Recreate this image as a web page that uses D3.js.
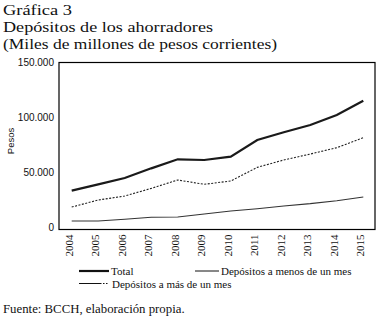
<!DOCTYPE html>
<html><head><meta charset="utf-8">
<script src="https://cdn.jsdelivr.net/npm/d3@7"></script>
<style>body{margin:0;background:#fff}svg{display:block}</style>
</head><body><svg id="c" width="381" height="323"></svg>
<script>
const years = ["2004","2005","2006","2007","2008","2009","2010","2011","2012","2013","2014","2015"];
const total = [33300,39000,44800,53600,61800,61200,64200,79400,86400,93000,102100,115100];
const masDeUnMes = [18400,24800,28400,35400,43000,39100,42100,54500,61200,66600,72400,81500];
const menosDeUnMes = [5700,5700,7300,9100,9400,12100,14800,16900,19400,21500,24200,27500];
const yTicks = [0,50000,100000,150000];
const titleLines = ["Gráfica 3","Depósitos de los ahorradores","(Miles de millones de pesos corrientes)"];
const titleWidths = [69,210,274];

const svg = d3.select("#c");
const serif = "'Liberation Serif', 'DejaVu Serif', serif";
const sans = "'Liberation Sans', 'DejaVu Sans', sans-serif";

svg.selectAll("text.title").data(titleLines).enter().append("text")
  .attr("x",3).attr("y",(d,i)=>14.5+i*17)
  .attr("font-family",serif).attr("font-size",14.8).attr("fill","#111")
  .attr("textLength",(d,i)=>titleWidths[i]).attr("lengthAdjust","spacingAndGlyphs").text(d=>d);

const L=59,R=375,T=62.5,B=229.5;
const x = d3.scalePoint().domain(years).range([71.7,363.3]);
const y = d3.scaleLinear().domain([0,150000]).range([227.3,62.3]);

svg.append("rect").attr("x",L).attr("y",T).attr("width",R-L).attr("height",B-T)
  .attr("fill","none").attr("stroke","#000").attr("stroke-width",1.2);

const fmt = d=> d===0?"0":d3.format(",")(d).replace(/,/g,".");
const ya = svg.append("g").attr("transform",`translate(${L},0)`)
  .call(d3.axisLeft(y).tickValues(yTicks).tickSize(0).tickPadding(5).tickFormat(fmt));
ya.select(".domain").remove();
ya.selectAll("text").attr("font-family",sans).attr("font-size",10).attr("fill","#111");

const xa = svg.append("g").attr("transform",`translate(0,${B})`)
  .call(d3.axisBottom(x).tickSize(0).tickPadding(0));
xa.select(".domain").remove();
xa.selectAll("text").attr("font-family",serif).attr("font-size",11).attr("fill","#111")
  .attr("transform","rotate(-90)").attr("text-anchor","end").attr("dy","0.05em").attr("dx","-5px").attr("y",0).attr("x",0);

svg.append("text").attr("transform","translate(14,141) rotate(-90)").attr("text-anchor","middle")
  .attr("font-family",sans).attr("font-size",9.5).attr("fill","#111").text("Pesos");

const line = d3.line().x((d,i)=>x(years[i])).y(d=>y(d));
svg.append("path").datum(total).attr("d",line).attr("fill","none").attr("stroke","#1a1a1a").attr("stroke-width",2.2);
svg.append("path").datum(masDeUnMes).attr("d",line).attr("fill","none").attr("stroke","#222").attr("stroke-width",1.1).attr("stroke-dasharray","2,1.5");
svg.append("path").datum(menosDeUnMes).attr("d",line).attr("fill","none").attr("stroke","#333").attr("stroke-width",1.1);

// legend
const lg = svg.append("g");
lg.append("line").attr("x1",79).attr("x2",109).attr("y1",271).attr("y2",271).attr("stroke","#111").attr("stroke-width",2.2);
lg.append("text").attr("x",111).attr("y",275).attr("font-family",serif).attr("font-size",11).attr("fill","#111").text("Total");
lg.append("line").attr("x1",195).attr("x2",219).attr("y1",271).attr("y2",271).attr("stroke","#111").attr("stroke-width",1);
lg.append("text").attr("x",221).attr("y",275).attr("font-family",serif).attr("font-size",11).attr("fill","#111").text("Depósitos a menos de un mes");
lg.append("line").attr("x1",79).attr("x2",100).attr("y1",283.5).attr("y2",283.5).attr("stroke","#111").attr("stroke-width",1);
lg.append("line").attr("x1",100).attr("x2",109).attr("y1",283.5).attr("y2",283.5).attr("stroke","#111").attr("stroke-width",1).attr("stroke-dasharray","1.5,1.5");
lg.append("text").attr("x",112).attr("y",287.5).attr("font-family",serif).attr("font-size",11).attr("fill","#111").text("Depósitos a más de un mes");

svg.append("text").attr("x",3).attr("y",313).attr("font-family",serif).attr("font-size",12.8).attr("fill","#111").text("Fuente: BCCH, elaboración propia.");
</script></body></html>
